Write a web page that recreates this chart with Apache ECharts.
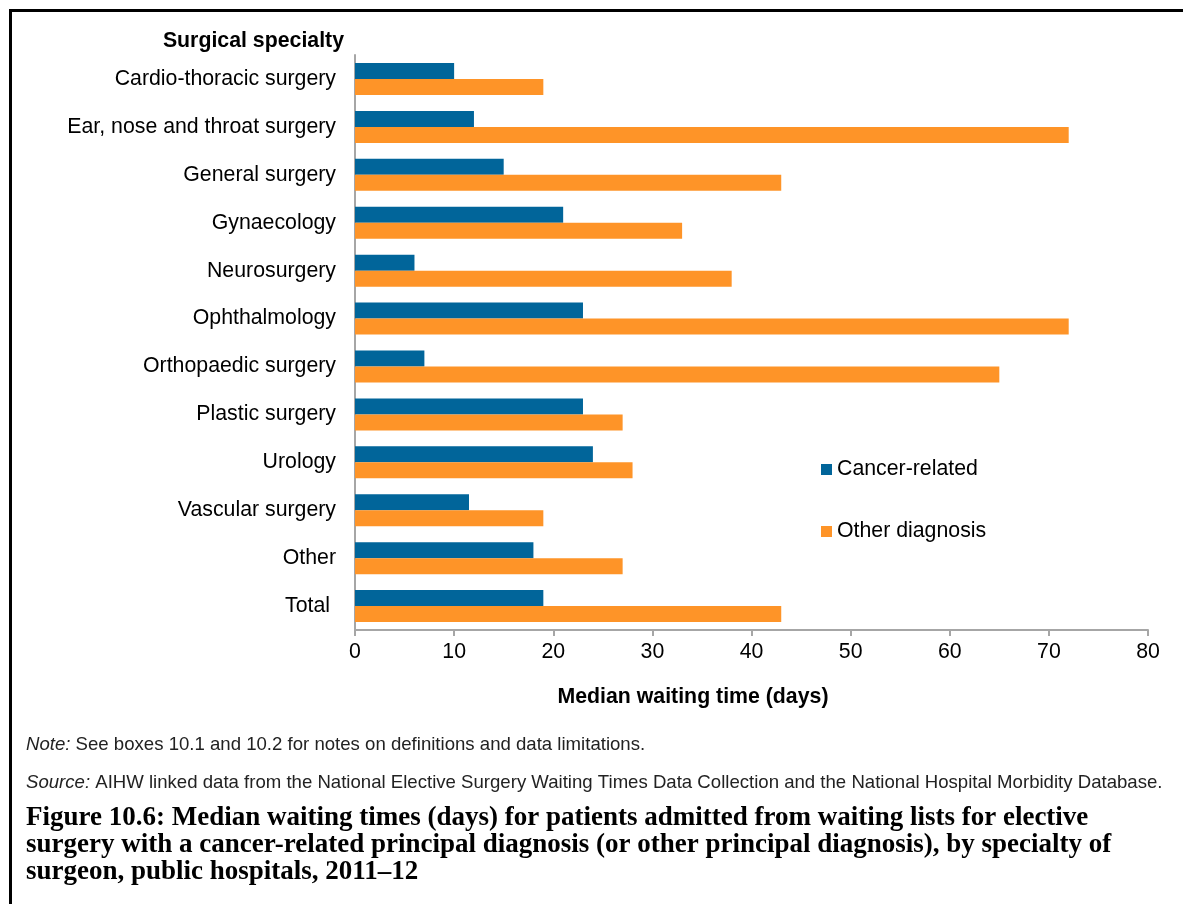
<!DOCTYPE html>
<html>
<head>
<meta charset="utf-8">
<script src="https://cdn.jsdelivr.net/npm/echarts@6/dist/echarts.min.js"></script>
<style>
  html, body { margin: 0; padding: 0; background: #fff; }
  #main { width: 1183px; height: 904px; }
</style>
</head>
<body>
<div id="main"></div>
<script>
// specialties, top to bottom
var specialties = [
  "Cardio-thoracic surgery",
  "Ear, nose and throat surgery",
  "General surgery",
  "Gynaecology",
  "Neurosurgery",
  "Ophthalmology",
  "Orthopaedic surgery",
  "Plastic surgery",
  "Urology",
  "Vascular surgery",
  "Other",
  "Total"
];
// median waiting time (days)
var cancerRelated = [10, 12, 15, 21, 6, 23, 7, 23, 24, 11.5, 18, 19];
var otherDiagnosis = [19, 72, 43, 33, 38, 72, 65, 27, 28, 19, 27, 43];
var seriesNames = ["Cancer-related", "Other diagnosis"];
var xTicks = { min: 0, max: 80, step: 10 };

var chart = echarts.init(document.getElementById("main"));
var sans = "'Liberation Sans', Arial, sans-serif";
var serif = "'Liberation Serif', 'DejaVu Serif', serif";
var fs = 21.3;

chart.setOption({
  animation: false,
  color: ["#01659A", "#FE9428"],
  grid: { left: 355, right: 35, top: 55, bottom: 274, containLabel: false },
  legend: {
    orient: "vertical",
    left: 816,
    top: 454,
    icon: "rect",
    itemWidth: 11,
    itemHeight: 11,
    itemGap: 41,
    textStyle: { fontFamily: sans, fontSize: fs, color: "#000" },
    data: seriesNames
  },
  xAxis: {
    type: "value",
    min: xTicks.min,
    max: xTicks.max,
    interval: xTicks.step,
    splitLine: { show: false },
    axisLine: { show: true, lineStyle: { color: "#A6A6A6", width: 2 } },
    axisTick: { show: true, length: 6, lineStyle: { color: "#A6A6A6", width: 2 } },
    axisLabel: { fontFamily: sans, fontSize: fs, color: "#000", margin: 12 }
  },
  yAxis: {
    type: "category",
    inverse: true,
    data: specialties,
    axisLine: { show: true, lineStyle: { color: "#A6A6A6", width: 2 } },
    axisTick: { show: false },
    axisLabel: {
      fontFamily: sans, fontSize: fs, color: "#000", margin: 19,
      formatter: function (v) { return v === "Total" ? "{t|" + v + "}" : v; },
      rich: { t: { fontFamily: sans, fontSize: fs, color: "#000", padding: [0, 6, 0, 0] } }
    }
  },
  series: [
    {
      name: seriesNames[0], type: "bar", data: cancerRelated,
      barWidth: 16, barGap: "0%"
    },
    {
      name: seriesNames[1], type: "bar", data: otherDiagnosis,
      barWidth: 16, barGap: "0%"
    }
  ],
  graphic: [
    // frame (top and left edges)
    { type: "rect", shape: { x: 9, y: 9, width: 1174, height: 3 }, style: { fill: "#000" } },
    { type: "rect", shape: { x: 9, y: 9, width: 3, height: 895 }, style: { fill: "#000" } },
    {
      type: "text", x: 344, y: 41,
      style: { text: "Surgical specialty", font: "bold " + fs + "px " + sans, fill: "#000", align: "right", verticalAlign: "middle" }
    },
    {
      type: "text", x: 693, y: 697,
      style: { text: "Median waiting time (days)", font: "bold " + fs + "px " + sans, fill: "#000", align: "center", verticalAlign: "middle" }
    },
    {
      type: "text", x: 26, y: 745,
      style: {
        text: "{i|Note:} See boxes 10.1 and 10.2 for notes on definitions and data limitations.",
        font: "18.6px " + sans, fill: "#222", verticalAlign: "middle",
        rich: { i: { fontStyle: "italic", fontFamily: sans, fontSize: 18.6, fill: "#222" } }
      }
    },
    {
      type: "text", x: 26, y: 783,
      style: {
        text: "{i|Source:} AIHW linked data from the National Elective Surgery Waiting Times Data Collection and the National Hospital Morbidity Database.",
        font: "18.6px " + sans, fill: "#222", verticalAlign: "middle",
        rich: { i: { fontStyle: "italic", fontFamily: sans, fontSize: 18.6, fill: "#222" } }
      }
    },
    {
      type: "text", x: 26, y: 818,
      style: { text: "Figure 10.6: Median waiting times (days) for patients admitted from waiting lists for elective", font: "bold 27px " + serif, fill: "#000", verticalAlign: "middle" }
    },
    {
      type: "text", x: 26, y: 845,
      style: { text: "surgery with a cancer-related principal diagnosis (or other principal diagnosis), by specialty of", font: "bold 27px " + serif, fill: "#000", verticalAlign: "middle" }
    },
    {
      type: "text", x: 26, y: 872,
      style: { text: "surgeon, public hospitals, 2011\u201312", font: "bold 27px " + serif, fill: "#000", verticalAlign: "middle" }
    }
  ]
});
</script>
</body>
</html>
